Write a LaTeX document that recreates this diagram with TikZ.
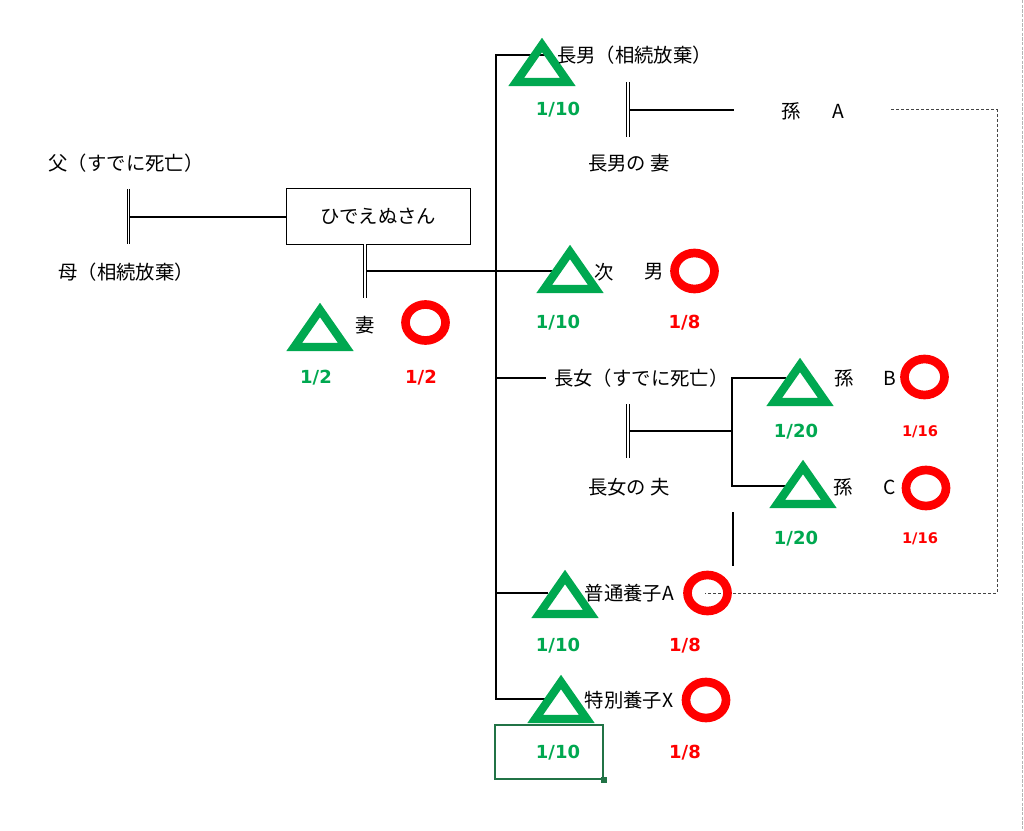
\documentclass[tikz,border=0pt]{standalone}
\usepackage{fontspec}
\usepackage{xcolor}
\usepackage{tikz}
\usetikzlibrary{positioning,shapes.geometric,calc}
\newfontfamily\jpfont{Noto Sans CJK JP}
\newfontfamily\numfont{DejaVu Sans}
\definecolor{heirgreen}{HTML}{00A850}
\definecolor{heirred}{HTML}{FF0000}
\definecolor{selgreen}{HTML}{217346}
\definecolor{bk70}{HTML}{444444}
\definecolor{bk30}{HTML}{B4B4B4}
\tikzset{
  person/.style={font={\jpfont\fontsize{14.5}{17}\selectfont}, inner sep=0pt},
  share/.style={font={\numfont\bfseries\fontsize{13.5}{15}\selectfont},
    text=#1, inner sep=0pt},
  share/.default=heirgreen,
  smallshare/.style={share=#1, font={\numfont\bfseries\fontsize{11}{13}\selectfont}},
  smallshare/.default=heirred,
  namebox/.style={person, rectangle, draw, line width=0.75pt,
    minimum width=138pt, minimum height=41.25pt},
  famline/.style={line width=1.5pt, black},
  marriage/.style={double, line width=0.7pt, double distance=1.2pt},
  succlink/.style={draw=bk70, line width=0.75pt, dash pattern=on 2.25pt off 1.5pt},
  pagebreak/.style={draw=bk30, line width=1.1pt, dash pattern=on 2.5pt off 1pt},
  ring/.style={ellipse, draw=heirred, line width=6.5pt,
    minimum width=30pt, minimum height=27pt, inner sep=0pt},
  heir/.pic={\draw[line width=6.2pt, heirgreen] (0,-23.5) -- (25.8,13.5) -- (-25.8,13.5) -- cycle;},
  selbox/.style={rectangle, draw=selgreen, line width=1.3pt,
    minimum width=81pt, minimum height=40.5pt, inner sep=0pt},
}

\begin{document}
\begin{tikzpicture}[x=0.75pt, y=-0.75pt]
\useasboundingbox (0,0) rectangle (1024,831);

% sheet page break
\coordinate (pg-top) at (1022.5,0);
\coordinate (pg-bot) at (1022.5,831);
\draw[pagebreak] (pg-top) -- (pg-bot);

% junctions
\coordinate (par-top) at (128.5,189);
\coordinate (par-bot) at (128.5,244);
\coordinate (par-mid) at (129.5,216.5);
\coordinate (sp-top) at (365,244);
\coordinate (sp-bot) at (365,298);
\coordinate (sp-mid) at (366,271);
\coordinate (son2-in) at (553,271);
\coordinate (trunk-top) at (496,55);
\coordinate (trunk-bot) at (496,699);
\coordinate (son1-in) at (548,55);
\coordinate (dau-in) at (546,378);
\coordinate (adA-in) at (548,593);
\coordinate (adX-in) at (546,699);
\coordinate (s1m-top) at (628,82);
\coordinate (s1m-bot) at (628,137);
\coordinate (s1m-mid) at (629,110);
\coordinate (s1m-end) at (734,110);
\coordinate (dm-top) at (628,404);
\coordinate (dm-bot) at (628,458);
\coordinate (dm-mid) at (629,431);
\coordinate (dm-fork) at (732,431);
\coordinate (dm-up) at (732,378);
\coordinate (dm-down) at (732,486);
\coordinate (gB-in) at (786,378);
\coordinate (gC-in) at (789,486);
\coordinate (stray-top) at (733,512);
\coordinate (stray-bot) at (733,566);
\coordinate (link-a) at (891,110);
\coordinate (link-c) at (997,593);
\coordinate (link-d) at (705,593);

% Parents
\node[person] (father) at (126,163) {父（すでに死亡）};
\node[person] (mother) at (126,272) {母（相続放棄）};
\node[namebox] (hide) at (378,216.5) {ひでえぬさん};
\draw[marriage] (par-top) -- (par-bot);
\draw[famline] (par-mid) -- (hide.west);

% Spouse and children
\draw[marriage] (sp-top) -- (sp-bot);
\draw[famline] (sp-mid) -- (son2-in);
\draw[famline] (son1-in) -- (trunk-top) -- (trunk-bot) -- (adX-in);
\draw[famline] (trunk-top |- dau-in) -- (dau-in);
\draw[famline] (trunk-top |- adA-in) -- (adA-in);

% Grandchildren
\draw[marriage] (s1m-top) -- (s1m-bot);
\draw[famline] (s1m-mid) -- (s1m-end);
\draw[marriage] (dm-top) -- (dm-bot);
\draw[famline] (dm-mid) -- (dm-fork);
\draw[famline] (gB-in) -- (dm-up) -- (dm-down) -- (gC-in);
\draw[famline] (stray-top) -- (stray-bot);
\draw[succlink] (link-a) -| (link-c) -- (link-d);

% Selected cell
\node[selbox] (sel) at (549,752) {};
\node[fill=selgreen, minimum size=4.5pt, inner sep=0pt] (sel-handle) at (sel.south east) {};

% Heirs: triangles and rings
\pic (wife-t) at (320,333.5) {heir};
\pic (son1-t) at (542,68.5) {heir};
\pic (son2-t) at (570,275.5) {heir};
\pic (gB-t) at (800,388.5) {heir};
\pic (gC-t) at (803,490.5) {heir};
\pic (adA-t) at (565,600.5) {heir};
\pic (adX-t) at (561,705.5) {heir};
\node[ring] (wife-o) at (425.5,322.5) {};
\node[ring] (son2-o) at (694.5,271) {};
\node[ring] (gB-o) at (924.5,377) {};
\node[ring] (gC-o) at (926,488) {};
\node[ring] (adA-o) at (707.5,593) {};
\node[ring] (adX-o) at (706,700) {};

% Names
\node[person] (wife) at (365,325) {妻};
\node[person, anchor=west] (son1) at (557,55) {長男（相続放棄）};
\node[person] (son1-wife) at (629,163) {長男の 妻};
\node[person] (gA) at (791,111) {孫};
\node[person] (gA-l) at (838,111) {A};
\node[person] (son2) at (604,272) {次};
\node[person] (son2-l) at (654,272) {男};
\node[person, anchor=west] (dau) at (554,378) {長女（すでに死亡）};
\node[person] (dau-hus) at (629,487) {長女の 夫};
\node[person] (gB) at (844,378) {孫};
\node[person] (gB-l) at (890,378) {B};
\node[person] (gC) at (843,487) {孫};
\node[person] (gC-l) at (889.5,487) {C};
\node[person] (adA) at (629.5,593) {普通養子A};
\node[person] (adX) at (629,700) {特別養子X};

% Shares
\node[share] (wife-ts) at (316,378) {1/2};
\node[share=heirred] (wife-os) at (421,378) {1/2};
\node[share] (son1-ts) at (558,110) {1/10};
\node[share] (son2-ts) at (558,323) {1/10};
\node[share=heirred] (son2-os) at (684.5,323) {1/8};
\node[share] (gB-ts) at (796,432) {1/20};
\node[smallshare] (gB-os) at (920,432) {1/16};
\node[share] (gC-ts) at (796,539) {1/20};
\node[smallshare] (gC-os) at (920,539) {1/16};
\node[share] (adA-ts) at (558,646) {1/10};
\node[share=heirred] (adA-os) at (685,646) {1/8};
\node[share] (adX-ts) at (558,753) {1/10};
\node[share=heirred] (adX-os) at (685,753) {1/8};
\end{tikzpicture}
\end{document}
